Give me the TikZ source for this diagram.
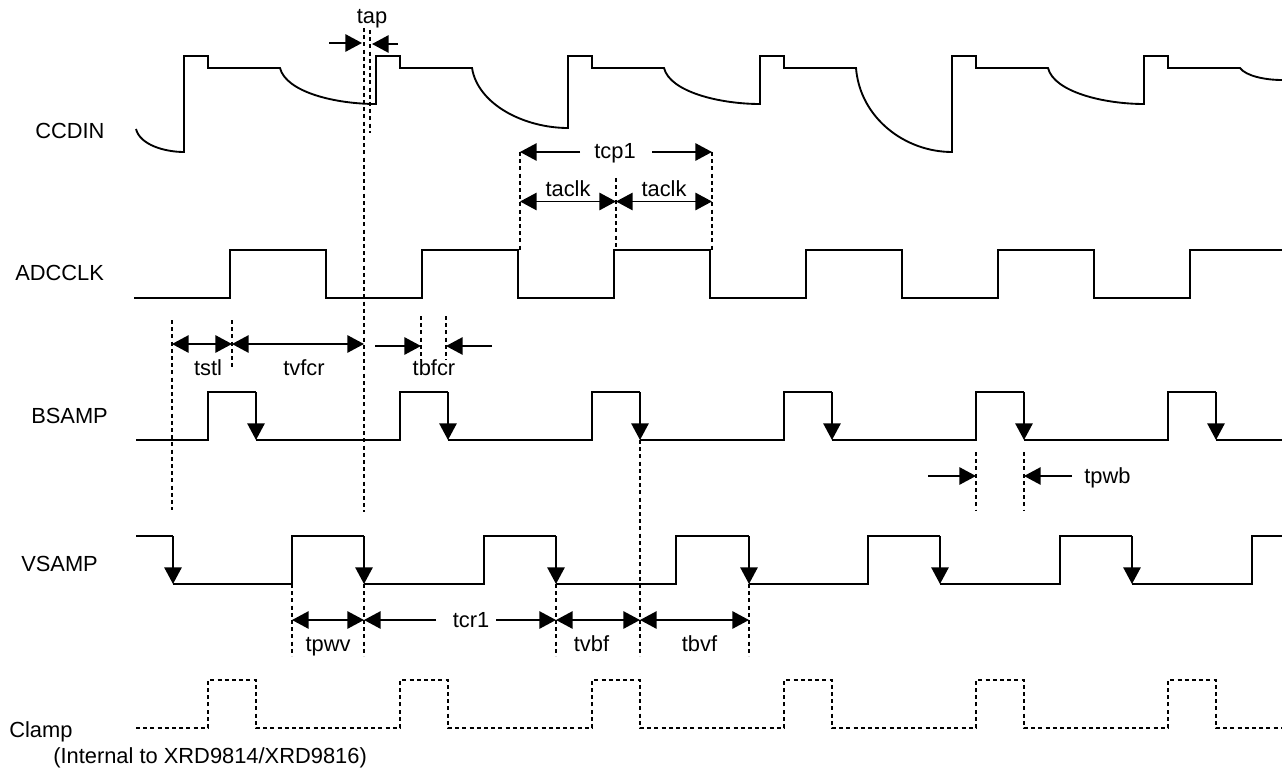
\documentclass[tikz,border=0pt]{standalone}
\usepackage{fontspec}
\setmainfont{Liberation Sans}
\usetikzlibrary{arrows.meta}
\tikzset{
  wave/.style={line width=1.4pt,line join=miter},
  guide/.style={line width=1.4pt,dash pattern=on 3pt off 2.4pt},
  tipend/.style={-{Triangle[length=12.5pt,width=13pt]},line width=1.4pt},
  tipboth/.style={{Triangle[length=12.5pt,width=13pt]}-{Triangle[length=12.5pt,width=13pt]},line width=1.4pt},
  lab/.style={font=\fontsize{16.4}{19}\selectfont,inner sep=0pt,text=black,anchor=base},
  sig/.style={font=\fontsize{16.4}{19}\selectfont,inner sep=0pt,anchor=base west,text=black},
}
\begin{document}
\begin{tikzpicture}[x=0.75pt,y=-0.75pt]
\useasboundingbox (0,0) rectangle (1282,770);
% signal names
\node[sig] (n1) at (35,139) {CCDIN};
\node[sig] (n2) at (15,280) {ADCCLK};
\node[sig] (n3) at (31,423) {BSAMP};
\node[sig] (n4) at (21,571) {VSAMP};
\node[sig] (n5) at (9,737) {Clamp};
\node[sig] (n6) at (53,763) {(Internal to XRD9814/XRD9816)};
% CCDIN
\draw[wave] (136,129) .. controls (140,145) and (165,152) .. (184,152) -- (184,56) -- (208,56) -- (208,68) -- (280,68)
  .. controls (286,92) and (335,104) .. (376,104) -- (376,56) -- (400,56) -- (400,68) -- (472,68)
  .. controls (478,105) and (525,128) .. (568,128) -- (568,56) -- (592,56) -- (592,68) -- (664,68)
  .. controls (670,92) and (720,104) .. (760,104) -- (760,56) -- (784,56) -- (784,68) -- (856,68)
  .. controls (860,118) and (905,152) .. (952,152) -- (952,56) -- (976,56) -- (976,68) -- (1048,68)
  .. controls (1054,92) and (1104,104) .. (1144,104) -- (1144,56) -- (1168,56) -- (1168,68) -- (1240,68)
  .. controls (1246,76) and (1265,80) .. (1282,80);
% ADCCLK
\draw[wave] (134,298) -- (230,298) -- (230,250) -- (326,250) -- (326,298) -- (422,298) -- (422,250) -- (518,250) -- (518,298)
  -- (614,298) -- (614,250) -- (710,250) -- (710,298) -- (806,298) -- (806,250) -- (902,250) -- (902,298)
  -- (998,298) -- (998,250) -- (1094,250) -- (1094,298) -- (1190,298) -- (1190,250) -- (1282,250);
% BSAMP
\draw[wave] (136,440) -- (208,440) -- (208,392) -- (256,392) (256,440) -- (400,440) -- (400,392) -- (448,392)
  (448,440) -- (592,440) -- (592,392) -- (640,392) (640,440) -- (784,440) -- (784,392) -- (832,392)
  (832,440) -- (976,440) -- (976,392) -- (1024,392) (1024,440) -- (1168,440) -- (1168,392) -- (1216,392)
  (1216,440) -- (1282,440);
\foreach \x in {256,448,640,832,1024,1216} \draw[tipend] (\x,392) -- (\x,440);
% VSAMP
\draw[wave] (136,536) -- (173,536) (173,584) -- (292,584) -- (292,536) -- (364,536)
  (364,584) -- (484,584) -- (484,536) -- (556,536)
  (556,584) -- (676,584) -- (676,536) -- (749,536)
  (749,584) -- (868,584) -- (868,536) -- (940,536)
  (940,584) -- (1060,584) -- (1060,536) -- (1132,536)
  (1132,584) -- (1252,584) -- (1252,536) -- (1282,536);
\foreach \x in {173,364,556,749,940,1132} \draw[tipend] (\x,536) -- (\x,584);
% Clamp
\draw[guide] (136,728) -- (208,728) -- (208,680) -- (256,680) -- (256,728) -- (400,728) -- (400,680) -- (448,680) -- (448,728)
  -- (592,728) -- (592,680) -- (640,680) -- (640,728) -- (784,728) -- (784,680) -- (832,680) -- (832,728)
  -- (976,728) -- (976,680) -- (1024,680) -- (1024,728) -- (1168,728) -- (1168,680) -- (1216,680) -- (1216,728) -- (1282,728);
% guide lines
\draw[guide] (364,28) -- (364,512);
\draw[guide] (364,584) -- (364,656);
\draw[guide] (370,30) -- (370,133);
\draw[guide] (172,320) -- (172,510);
\draw[guide] (232,320) -- (232,368);
\draw[guide] (421,316) -- (421,360);
\draw[guide] (446,316) -- (446,360);
\draw[guide] (520,152) -- (520,250);
\draw[guide] (712,152) -- (712,250);
\draw[guide] (616,178) -- (616,250);
\draw[guide] (976,452) -- (976,510);
\draw[guide] (1024,452) -- (1024,510);
\draw[guide] (292,584) -- (292,656);
\draw[guide] (556,584) -- (556,656);
\draw[guide] (640,440) -- (640,656);
\draw[guide] (749,584) -- (749,656);
% tap
\node[lab] (tap) at (372,24) {tap};
\coordinate (a1) at (329,43); \coordinate (a2) at (362,43);
\coordinate (a3) at (398,44); \coordinate (a4) at (372,44);
\draw[tipend] (a1) -- (a2);
\draw[tipend] (a3) -- (a4);
% tcp1
\node[lab] (tcp) at (615,159) {tcp1};
\coordinate (b1) at (520,152); \coordinate (b2) at (712,152);
\draw[tipend] (580,152) -- (b1);
\draw[tipend] (652,152) -- (b2);
\node[lab] (tac1) at (568,197) {taclk};
\node[lab] (tac2) at (664,197) {taclk};
\coordinate (c1) at (520,201.5); \coordinate (c2) at (616,201.5); \coordinate (c3) at (712,201.5);
\draw[tipboth] (c1) -- (c2);
\draw[tipboth] (c2) -- (c3);
% tstl etc
\coordinate (d1) at (172,344); \coordinate (d2) at (232,344); \coordinate (d3) at (364,344);
\draw[tipboth] (d1) -- (d2);
\draw[tipboth] (d2) -- (d3);
\node[lab] (tstl) at (208,375) {tstl};
\node[lab] (tvfcr) at (304,375) {tvfcr};
\node[lab] (tbfcr) at (434,375) {tbfcr};
\draw[tipend] (375,346) -- (421,346);
\draw[tipend] (492,346) -- (446,346);
% tpwb
\draw[tipend] (928,476) -- (976,476);
\draw[tipend] (1072,476) -- (1024,476);
\node[lab] (tpwb) at (1107.5,483) {tpwb};
% lower dims
\coordinate (e1) at (292,620); \coordinate (e2) at (364,620); \coordinate (e3) at (556,620);
\coordinate (e4) at (640,620); \coordinate (e5) at (749,620);
\draw[tipboth] (e1) -- (e2);
\draw[tipend] (436,620) -- (e2);
\draw[tipend] (496,620) -- (e3);
\draw[tipboth] (e3) -- (e4);
\draw[tipboth] (e4) -- (e5);
\node[lab] (tpwv) at (328,651) {tpwv};
\node[lab] (tcr) at (471,627) {tcr1};
\node[lab] (tvbf) at (591.5,651) {tvbf};
\node[lab] (tbvf) at (699.5,651) {tbvf};
\end{tikzpicture}
\end{document}
